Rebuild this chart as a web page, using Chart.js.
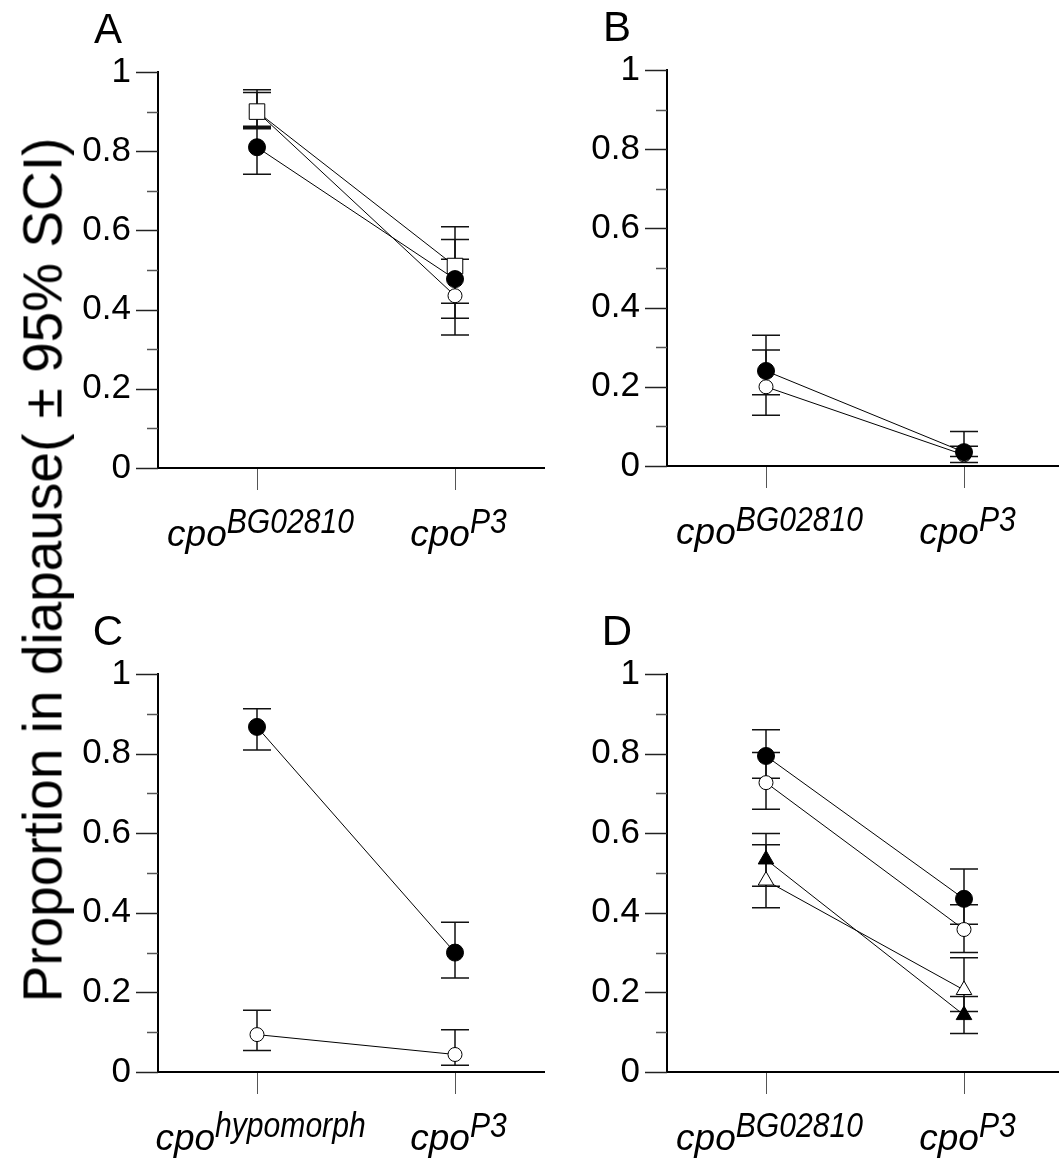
<!DOCTYPE html>
<html>
<head>
<meta charset="utf-8">
<title>Proportion in diapause</title>
<script src="https://cdn.jsdelivr.net/npm/chart.js@4.4.1/dist/chart.umd.min.js"></script>
<style>
  body { margin: 0; background: #fff; }
  #page { position: relative; width: 1059px; height: 1163px; overflow: hidden; }
  #page canvas { position: absolute; }
  #ytitle {
    position: absolute; left: 43px; top: 570px;
    transform: translate(-50%, -50%) rotate(-90deg);
    font: 55px "Liberation Sans", Arial, sans-serif; line-height: 1;
    white-space: nowrap; color: #000;
  }
</style>
</head>
<body>
<div id="page">
  <canvas id="panelA"></canvas>
  <canvas id="panelB"></canvas>
  <canvas id="panelC"></canvas>
  <canvas id="panelD"></canvas>
  <div id="ytitle">Proportion in diapause( ± 95% SCI)</div>
</div>
<script>
const FONT = '"Liberation Sans", Arial, sans-serif';

// y axis: labelled ticks
const yTickValues = [0, 0.2, 0.4, 0.6, 0.8, 1];
const yTickLabels = ['0', '0.2', '0.4', '0.6', '0.8', '1'];

// x categories: genotype superscripts (base text is "cpo")
const allelesAB = ['BG02810', 'P3'];
const allelesC = ['hypomorph', 'P3'];
const allelesD = ['BG02810', 'P3'];

// Panel A
const aFilled = [0.81, 0.477],  aFilledHi = [0.86, 0.577],  aFilledLo = [0.742, 0.378];
const aOpen = [0.90, 0.435],    aOpenHi = [0.948, 0.527],   aOpenLo = [0.857, 0.336];
const aSquare = [0.90, 0.51],   aSquareHi = [0.955, 0.609], aSquareLo = [0.863, 0.416];

// Panel B
const bFilled = [0.24, 0.035],  bFilledHi = [0.33, 0.087],  bFilledLo = [0.18, 0.024];
const bOpen = [0.20, 0.028],    bOpenHi = [0.293, 0.05],    bOpenLo = [0.128, 0.009];

// Panel C
const cFilled = [0.867, 0.30],  cFilledHi = [0.913, 0.376], cFilledLo = [0.809, 0.236];
const cOpen = [0.094, 0.044],   cOpenHi = [0.155, 0.106],   cOpenLo = [0.054, 0.017];

// Panel D
const dFilled = [0.794, 0.435], dFilledHi = [0.86, 0.51],   dFilledLo = [0.738, 0.371];
const dOpen = [0.727, 0.358],   dOpenHi = [0.803, 0.42],    dOpenLo = [0.66, 0.30];
const dTriFilled = [0.534, 0.143], dTriFilledHi = [0.599, 0.19], dTriFilledLo = [0.467, 0.097];
const dTriOpen = [0.481, 0.206],   dTriOpenHi = [0.571, 0.287],  dTriOpenLo = [0.413, 0.152];

const FILLED_CIRCLE = { style: 'circle', fill: '#000', radius: 8.5 };
const OPEN_CIRCLE = { style: 'circle', fill: '#fff', radius: 7 };
const OPEN_SQUARE = { style: 'rect', fill: '#fff', radius: 11 };
const FILLED_TRI = { style: 'triangle', fill: '#000', radius: 9 };
const OPEN_TRI = { style: 'triangle', fill: '#fff', radius: 9 };

function series(values, lo, hi, marker) {
  return {
    data: values.map((v, i) => ({ x: i + 1, y: v })),
    lo: lo, hi: hi,
    showLine: true,
    borderColor: '#000',
    borderWidth: 1,
    pointStyle: marker.style,
    pointRadius: marker.radius,
    pointBackgroundColor: marker.fill,
    pointBorderColor: '#000',
    pointBorderWidth: 1,
    clip: false
  };
}

// Chart.js paints dataset 0 last, so the topmost marker comes first
const panels = [
  { canvas: 'panelA', letter: 'A', left: 0, top: 0, width: 545, height: 565,
    plotLeft: 158, plotTop: 72, plotBottom: 468, alleles: allelesAB,
    datasets: [
      series(aFilled, aFilledLo, aFilledHi, FILLED_CIRCLE),
      series(aSquare, aSquareLo, aSquareHi, OPEN_SQUARE),
      series(aOpen, aOpenLo, aOpenHi, OPEN_CIRCLE)
    ] },
  { canvas: 'panelB', letter: 'B', left: 560, top: 0, width: 499, height: 565,
    plotLeft: 667, plotTop: 70, plotBottom: 466, alleles: allelesAB,
    datasets: [
      series(bFilled, bFilledLo, bFilledHi, FILLED_CIRCLE),
      series(bOpen, bOpenLo, bOpenHi, OPEN_CIRCLE)
    ] },
  { canvas: 'panelC', letter: 'C', left: 0, top: 600, width: 545, height: 563,
    plotLeft: 158, plotTop: 674, plotBottom: 1072, alleles: allelesC,
    datasets: [
      series(cFilled, cFilledLo, cFilledHi, FILLED_CIRCLE),
      series(cOpen, cOpenLo, cOpenHi, OPEN_CIRCLE)
    ] },
  { canvas: 'panelD', letter: 'D', left: 560, top: 600, width: 499, height: 563,
    plotLeft: 667, plotTop: 674, plotBottom: 1072, alleles: allelesD,
    datasets: [
      series(dFilled, dFilledLo, dFilledHi, FILLED_CIRCLE),
      series(dOpen, dOpenLo, dOpenHi, OPEN_CIRCLE),
      series(dTriFilled, dTriFilledLo, dTriFilledHi, FILLED_TRI),
      series(dTriOpen, dTriOpenLo, dTriOpenHi, OPEN_TRI)
    ] }
];

// error bars go under the markers
const errorBars = {
  id: 'errorBars',
  beforeDatasetsDraw(chart) {
    const ctx = chart.ctx, xs = chart.scales.x, ys = chart.scales.y;
    ctx.save();
    ctx.strokeStyle = '#111';
    ctx.lineWidth = 1.5;
    chart.data.datasets.forEach(ds => {
      ds.data.forEach((p, i) => {
        const x = xs.getPixelForValue(p.x);
        const yHi = ys.getPixelForValue(ds.hi[i]);
        const yLo = ys.getPixelForValue(ds.lo[i]);
        ctx.beginPath();
        ctx.moveTo(x, yHi); ctx.lineTo(x, yLo);
        ctx.moveTo(x - 14, yHi); ctx.lineTo(x + 14, yHi);
        ctx.moveTo(x - 14, yLo); ctx.lineTo(x + 14, yLo);
        ctx.stroke();
      });
    });
    ctx.restore();
  }
};

// tick marks, genotype labels with superscripts, panel letter
const panelDecor = {
  id: 'panelDecor',
  afterDraw(chart, args, opts) {
    const ctx = chart.ctx, xs = chart.scales.x, ys = chart.scales.y;
    const axisX = chart.chartArea.left, axisY = chart.chartArea.bottom;
    ctx.save();
    // y ticks every 0.1, longer at labelled values
    for (let i = 0; i <= 10; i++) {
      const y = Math.round(ys.getPixelForValue(i / 10)) + 0.5;
      const len = i % 2 === 0 ? 22 : 11;
      ctx.strokeStyle = i % 2 === 0 ? '#222' : '#555';
      ctx.lineWidth = 1.5;
      ctx.beginPath();
      ctx.moveTo(axisX - len, y); ctx.lineTo(axisX, y);
      ctx.stroke();
    }
    // x ticks and labels
    opts.alleles.forEach((sup, i) => {
      const x = Math.round(xs.getPixelForValue(i + 1)) + 0.5;
      ctx.strokeStyle = '#555';
      ctx.lineWidth = 1;
      ctx.beginPath();
      ctx.moveTo(x, axisY + 1); ctx.lineTo(x, axisY + 22);
      ctx.stroke();

      const baseFont = 'italic 37px ' + FONT;
      const supFont = 'italic 35px ' + FONT;
      ctx.font = baseFont;
      const wBase = ctx.measureText('cpo').width;
      ctx.font = supFont;
      const wSup = ctx.measureText(sup).width * 0.86;
      const x0 = x - (wBase + wSup) / 2 + 3;
      const baseline = axisY + 78;
      ctx.fillStyle = '#000';
      ctx.textAlign = 'left';
      ctx.textBaseline = 'alphabetic';
      ctx.font = baseFont;
      ctx.fillText('cpo', x0, baseline);
      ctx.font = supFont;
      ctx.fillText(sup, x0 + wBase, baseline - 13, wSup);
    });
    // panel letter
    ctx.font = '42px ' + FONT;
    ctx.fillStyle = '#000';
    ctx.textAlign = 'center';
    ctx.textBaseline = 'alphabetic';
    ctx.fillText(opts.letter, axisX - 50, chart.chartArea.top - 29);
    ctx.restore();
  }
};

panels.forEach(p => {
  const el = document.getElementById(p.canvas);
  el.width = p.width;
  el.height = p.height;
  el.style.left = p.left + 'px';
  el.style.top = p.top + 'px';
  el.style.width = p.width + 'px';
  el.style.height = p.height + 'px';

  // one category step = 198 px, first category half a step from the y axis
  const xMax = 0.5 + (p.left + p.width - p.plotLeft) / 198;

  new Chart(el, {
    type: 'scatter',
    data: { datasets: p.datasets },
    plugins: [errorBars, panelDecor],
    options: {
      responsive: false,
      animation: false,
      events: [],
      layout: { autoPadding: false, padding: { top: p.plotTop - p.top, left: 0, right: 0, bottom: 0 } },
      plugins: {
        legend: { display: false },
        tooltip: { enabled: false },
        panelDecor: { letter: p.letter, alleles: p.alleles }
      },
      scales: {
        x: {
          type: 'linear',
          min: 0.5,
          max: xMax,
          afterBuildTicks: s => { s.ticks = [{ value: 1 }, { value: 2 }]; },
          afterFit: s => { s.height = p.top + p.height - p.plotBottom; },
          ticks: { display: false },
          grid: { display: false, drawTicks: false, tickLength: 0 },
          border: { display: true, color: '#000', width: 2 }
        },
        y: {
          min: 0,
          max: 1,
          afterBuildTicks: s => { s.ticks = yTickValues.map(v => ({ value: v })); },
          afterFit: s => { s.width = p.plotLeft - p.left; },
          ticks: {
            padding: 27,
            color: '#000',
            font: { family: FONT, size: 35 },
            callback: (v, i) => yTickLabels[i]
          },
          grid: { display: false, drawTicks: false, tickLength: 0 },
          border: { display: true, color: '#000', width: 2 }
        }
      }
    }
  });
});
</script>
</body>
</html>
